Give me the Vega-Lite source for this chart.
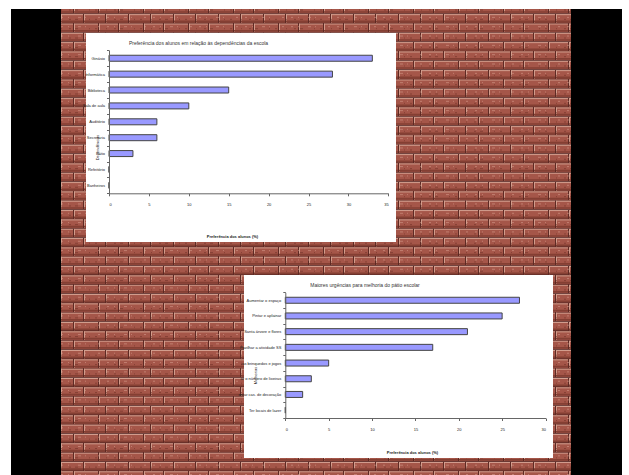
{
"$schema":"https://vega.github.io/schema/vega-lite/v6.json",
"width":629,"height":475,"padding":0,"autosize":{"type":"none"},"background":"#ffffff",
"config":{"view":{"stroke":null},"font":"Liberation Sans","axis":{"grid":false}},
"datasets":{
"frame":[{"part":"moldura"}],
"courses":[{"course":0,"bond":"A"},{"course":1,"bond":"B"},{"course":2,"bond":"A"},{"course":3,"bond":"B"},{"course":4,"bond":"A"},{"course":5,"bond":"B"},{"course":6,"bond":"A"},{"course":7,"bond":"B"},{"course":8,"bond":"A"},{"course":9,"bond":"B"},{"course":10,"bond":"A"},{"course":11,"bond":"B"},{"course":12,"bond":"A"},{"course":13,"bond":"B"},{"course":14,"bond":"A"},{"course":15,"bond":"B"},{"course":16,"bond":"A"},{"course":17,"bond":"B"},{"course":18,"bond":"A"},{"course":19,"bond":"B"},{"course":20,"bond":"A"},{"course":21,"bond":"B"},{"course":22,"bond":"A"},{"course":23,"bond":"B"},{"course":24,"bond":"A"},{"course":25,"bond":"B"},{"course":26,"bond":"A"},{"course":27,"bond":"B"},{"course":28,"bond":"A"},{"course":29,"bond":"B"},{"course":30,"bond":"A"},{"course":31,"bond":"B"},{"course":32,"bond":"A"},{"course":33,"bond":"B"},{"course":34,"bond":"A"},{"course":35,"bond":"B"},{"course":36,"bond":"A"},{"course":37,"bond":"B"},{"course":38,"bond":"A"},{"course":39,"bond":"B"},{"course":40,"bond":"A"},{"course":41,"bond":"B"},{"course":42,"bond":"A"},{"course":43,"bond":"B"},{"course":44,"bond":"A"},{"course":45,"bond":"B"},{"course":46,"bond":"A"},{"course":47,"bond":"B"},{"course":48,"bond":"A"},{"course":49,"bond":"B"},{"course":50,"bond":"A"}],
"dependencias":[{"local":"Ginásio","pct":33},{"local":"Informática","pct":28},{"local":"Biblioteca","pct":15},{"local":"Sala de aula","pct":10},{"local":"Auditório","pct":6},{"local":"Secretaria","pct":6},{"local":"Pátio","pct":3},{"local":"Refeitório","pct":0},{"local":"Banheiros","pct":0}],
"urgencias":[{"item":"Aumentar o espaço","pct":27},{"item":"Pintar e aplainar","pct":25},{"item":"Santa árvore e flores","pct":21},{"item":"Pavilhar a atividade SS","pct":17},{"item":"ias brinquedos e jogos","pct":5},{"item":"ar o número de lixeiras","pct":3},{"item":"entar cas. de decoração","pct":2},{"item":"Ter locais de lazer","pct":0}]
},
"layer":[
{"data":{"name":"courses"},"encoding":{"x":{"datum":61,"type":"quantitative","scale":{"domain":[0,629],"range":[0,629],"nice":false,"zero":false},"axis":null},"x2":{"datum":571},"y":{"field":"course","type":"quantitative","scale":{"domain":[0,50],"range":[9.03,475.5],"nice":false,"zero":false},"axis":null}},
 "layer":[
  {"transform":[{"filter":"datum.bond=='A'"}],"layer":[
    {"mark":{"type":"rule","stroke":"#5e2a24","strokeWidth":9.6}},
    {"mark":{"type":"rule","stroke":"#a55649","strokeWidth":8.2,"strokeDash":[24,1,19,1],"strokeDashOffset":32}},
    {"mark":{"type":"rule","stroke":"#d29c8b","strokeWidth":8.2,"strokeDash":[1,24,1,19],"strokeDashOffset":32}},
    {"mark":{"type":"rule","stroke":"#d39f8f","strokeWidth":1,"yOffset":-3.7,"strokeDash":[24,1,19,1],"strokeDashOffset":32}},
    {"mark":{"type":"rule","stroke":"#843f33","strokeWidth":1.6,"yOffset":3,"strokeDash":[24,1,19,1],"strokeDashOffset":32}}
  ]},
  {"transform":[{"filter":"datum.bond=='B'"}],"layer":[
    {"mark":{"type":"rule","stroke":"#5e2a24","strokeWidth":9.6}},
    {"mark":{"type":"rule","stroke":"#a55649","strokeWidth":8.2,"strokeDash":[22,1,21,1]}},
    {"mark":{"type":"rule","stroke":"#d29c8b","strokeWidth":8.2,"strokeDash":[1,22,1,21]}},
    {"mark":{"type":"rule","stroke":"#d39f8f","strokeWidth":1,"yOffset":-3.7,"strokeDash":[22,1,21,1]}},
    {"mark":{"type":"rule","stroke":"#843f33","strokeWidth":1.6,"yOffset":3,"strokeDash":[22,1,21,1]}}
  ]},
  {"mark":{"type":"rule","stroke":"#d9a08f","opacity":0.55,"strokeWidth":1,"yOffset":-1,"strokeDash":[2,5,1,9,3,4,1,12,2,7]}},
  {"mark":{"type":"rule","stroke":"#6b2f25","opacity":0.55,"strokeWidth":1,"yOffset":1,"strokeDash":[1,7,2,4,3,11,1,5,2,9]}}
]},
{"data":{"name":"frame"},"encoding":{"x":{"datum":0,"type":"quantitative","scale":{"domain":[0,629],"range":[0,629],"nice":false,"zero":false},"axis":null},"y":{"datum":0,"type":"quantitative","scale":{"domain":[0,475],"range":[0,475],"nice":false,"zero":false},"axis":null}},
 "layer":[
  {"mark":{"type":"rect","fill":"#ffffff"},"encoding":{"x":{"datum":0,"type":"quantitative"},"x2":{"datum":629},"y":{"datum":0,"type":"quantitative"},"y2":{"datum":9}}},
  {"mark":{"type":"rect","fill":"#000000"},"encoding":{"x":{"datum":11,"type":"quantitative"},"x2":{"datum":61},"y":{"datum":9,"type":"quantitative"},"y2":{"datum":475}}},
  {"mark":{"type":"rect","fill":"#000000"},"encoding":{"x":{"datum":571,"type":"quantitative"},"x2":{"datum":622},"y":{"datum":9,"type":"quantitative"},"y2":{"datum":475}}},
  {"mark":{"type":"rect","fill":"#ffffff"},"encoding":{"x":{"datum":86,"type":"quantitative"},"x2":{"datum":396},"y":{"datum":33,"type":"quantitative"},"y2":{"datum":242}}},
  {"mark":{"type":"rect","fill":"#ffffff"},"encoding":{"x":{"datum":244,"type":"quantitative"},"x2":{"datum":553},"y":{"datum":275,"type":"quantitative"},"y2":{"datum":458}}},
  {"mark":{"type":"text","text":"Preferência dos alunos em relação às dependências da escola","fontSize":5,"color":"#333333","align":"center","baseline":"middle"},"encoding":{"x":{"datum":198.5,"type":"quantitative"},"y":{"datum":43,"type":"quantitative"}}},
  {"mark":{"type":"text","text":"Maiores urgências para melhoria do pátio escolar","fontSize":5,"color":"#333333","align":"center","baseline":"middle"},"encoding":{"x":{"datum":365,"type":"quantitative"},"y":{"datum":285,"type":"quantitative"}}}
]},
{"data":{"name":"dependencias"},
 "mark":{"type":"bar","fill":"#9999ff","stroke":"#444444","strokeWidth":1,"size":6},
 "encoding":{
  "x":{"field":"pct","type":"quantitative","scale":{"domain":[0,35],"range":[109,388.3],"nice":false,"zero":true},
    "axis":{"zindex":1,"values":[0,5,10,15,20,25,30,35],"offset":-281.7,"orient":"bottom","title":"Preferência dos alunos (%)","titleFontSize":4,"titleFontWeight":"bold","titleColor":"#222222","titleX":232,"titleY":42.7,"titleBaseline":"middle","titleAlign":"center","labelFontSize":4,"labelColor":"#222222","labelPadding":7,"tickSize":2.5,"tickColor":"#666666","domainColor":"#666666","labelOverlap":false}},
  "y":{"field":"local","type":"nominal","sort":null,"scale":{"type":"band","range":[50.3,193.3],"paddingInner":0,"paddingOuter":0},
    "axis":{"zindex":1,"orient":"left","offset":-109,"tickBand":"extent","title":"Dependências","titleFontSize":4,"titleFontWeight":"normal","titleColor":"#222222","titleX":-11.4,"titleY":147,"titleAngle":-90,"titleBaseline":"middle","titleAlign":"center","labelFontSize":4,"labelColor":"#222222","labelPadding":2,"labelLimit":80,"tickSize":2.5,"tickColor":"#666666","domainColor":"#666666","labelOverlap":false}}
 }},
{"data":{"name":"urgencias"},
 "mark":{"type":"bar","fill":"#9999ff","stroke":"#444444","strokeWidth":1,"size":6},
 "encoding":{
  "x":{"field":"pct","type":"quantitative","scale":{"domain":[0,30],"range":[285.3,545.5],"nice":false,"zero":true},
    "axis":{"zindex":1,"values":[0,5,10,15,20,25,30],"offset":-57,"orient":"bottom","title":"Preferência dos alunos (%)","titleFontSize":4,"titleFontWeight":"bold","titleColor":"#222222","titleX":412,"titleY":34,"titleBaseline":"middle","titleAlign":"center","labelFontSize":4,"labelColor":"#222222","labelPadding":7,"tickSize":2.5,"tickColor":"#666666","domainColor":"#666666","labelOverlap":false}},
  "y":{"field":"item","type":"nominal","sort":null,"scale":{"type":"band","range":[292.4,418],"paddingInner":0,"paddingOuter":0},
    "axis":{"zindex":1,"orient":"left","offset":-285.3,"tickBand":"extent","title":"Melhorias","titleFontSize":4,"titleFontWeight":"normal","titleColor":"#222222","titleX":-30.3,"titleY":375,"titleAngle":-90,"titleBaseline":"middle","titleAlign":"center","labelFontSize":4,"labelColor":"#222222","labelPadding":2,"labelLimit":80,"tickSize":2.5,"tickColor":"#666666","domainColor":"#666666","labelOverlap":false}}
 }}
],
"resolve":{"scale":{"x":"independent","y":"independent"},"axis":{"x":"independent","y":"independent"}}
}
